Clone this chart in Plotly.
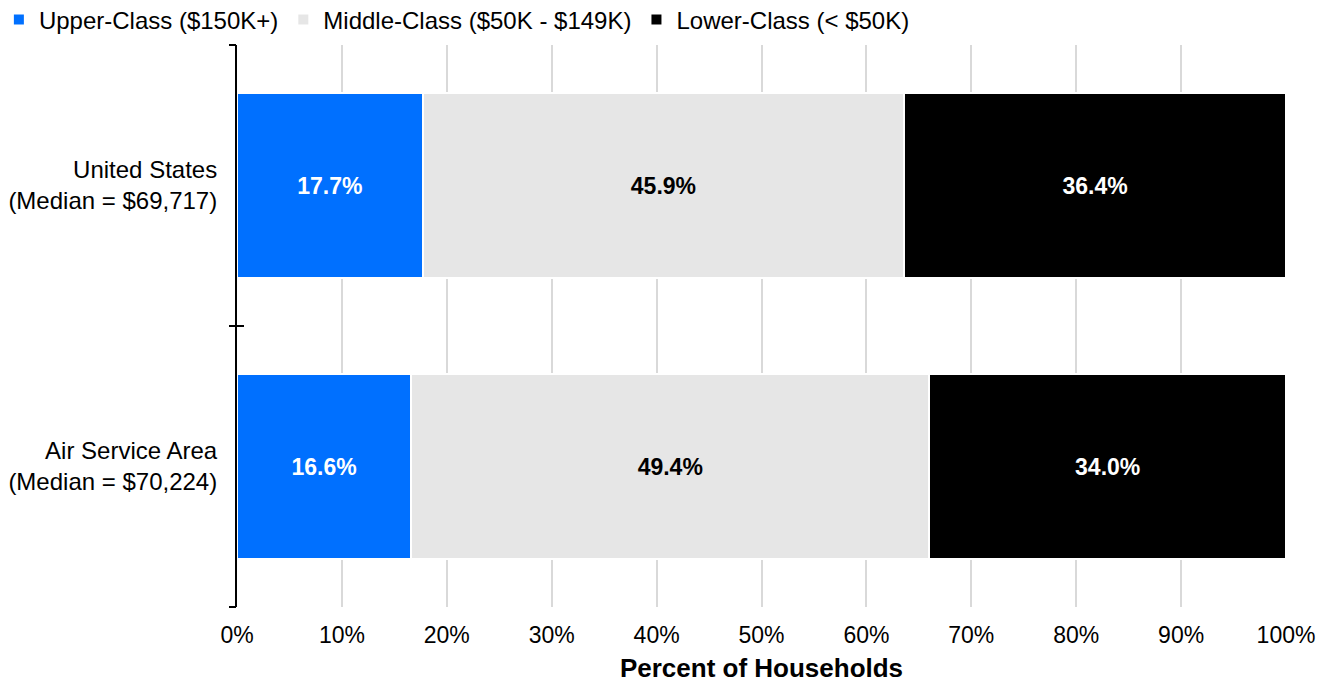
import plotly.graph_objects as go

# categories top-to-bottom
areas = ["United States<br>(Median = $69,717)", "Air Service Area<br>(Median = $70,224)"]
series_names = ["Upper-Class ($150K+)", "Middle-Class ($50K - $149K)", "Lower-Class (< $50K)"]
upper = [17.7, 16.6]
middle = [45.9, 49.4]
lower = [36.4, 34.0]
x_ticks = [0, 10, 20, 30, 40, 50, 60, 70, 80, 90, 100]
x_tick_text = [f"{t}%" for t in x_ticks]
# category boundaries where the crossing ticks sit on the left axis
boundaries = [-0.5, 0.5, 1.5]

colors = ["#0070FF", "#E6E6E6", "#000000"]
label_colors = ["white", "black", "white"]

fig = go.Figure()
for name, vals, col, lc in zip(series_names, [upper, middle, lower], colors, label_colors):
    fig.add_trace(go.Bar(
        y=areas, x=vals, name=name, orientation="h",
        marker=dict(color=col, line=dict(color="white", width=2)),
        text=[f"{v:.1f}%" for v in vals], textposition="inside",
        insidetextanchor="middle",
        textfont=dict(family="Arial", size=23, color=lc, weight="bold"),
        width=0.66,
    ))

# empty traces so the two tick-only overlay axes get drawn
for ax in ["y2", "y3"]:
    fig.add_trace(go.Scatter(x=[None], y=[None], yaxis=ax, showlegend=False,
                             hoverinfo="skip"))

tick_axis = dict(overlaying="y", side="left", range=[1.5, -0.5], tickvals=boundaries,
                 showline=False, ticklen=7, tickwidth=2, tickcolor="black",
                 showticklabels=False, showgrid=False, zeroline=False, automargin=False)

# page body adds an 8px offset, margins compensate for it
fig.update_layout(
    barmode="stack",
    width=1329, height=686,
    margin=dict(l=229, r=51, t=37, b=87, autoexpand=False),
    plot_bgcolor="white", paper_bgcolor="white",
    font=dict(family="Arial", size=24, color="black"),
    uniformtext=dict(minsize=23, mode="show"),
    legend=dict(orientation="h", x=-0.227, xanchor="left", y=1.0445,
                yanchor="middle", font=dict(size=24), traceorder="normal",
                itemwidth=30, tracegroupgap=0, bgcolor="rgba(0,0,0,0)"),
    xaxis=dict(range=[0, 100], tickvals=x_ticks, ticktext=x_tick_text,
               showgrid=True, gridcolor="#D9D9D9", gridwidth=2,
               zeroline=False, showline=False, ticks="", automargin=False,
               tickfont=dict(size=23), ticklabelstandoff=12,
               title=dict(text="<b>Percent of Households</b>", font=dict(size=26), standoff=11)),
    yaxis=dict(autorange="reversed", showline=True, linecolor="black", linewidth=2,
               ticks="", showgrid=False, tickfont=dict(size=24),
               ticklabelstandoff=13, automargin=False),
    yaxis2=dict(tick_axis, ticks="outside"),
    yaxis3=dict(tick_axis, ticks="inside"),
)

fig.write_html("out.html")
